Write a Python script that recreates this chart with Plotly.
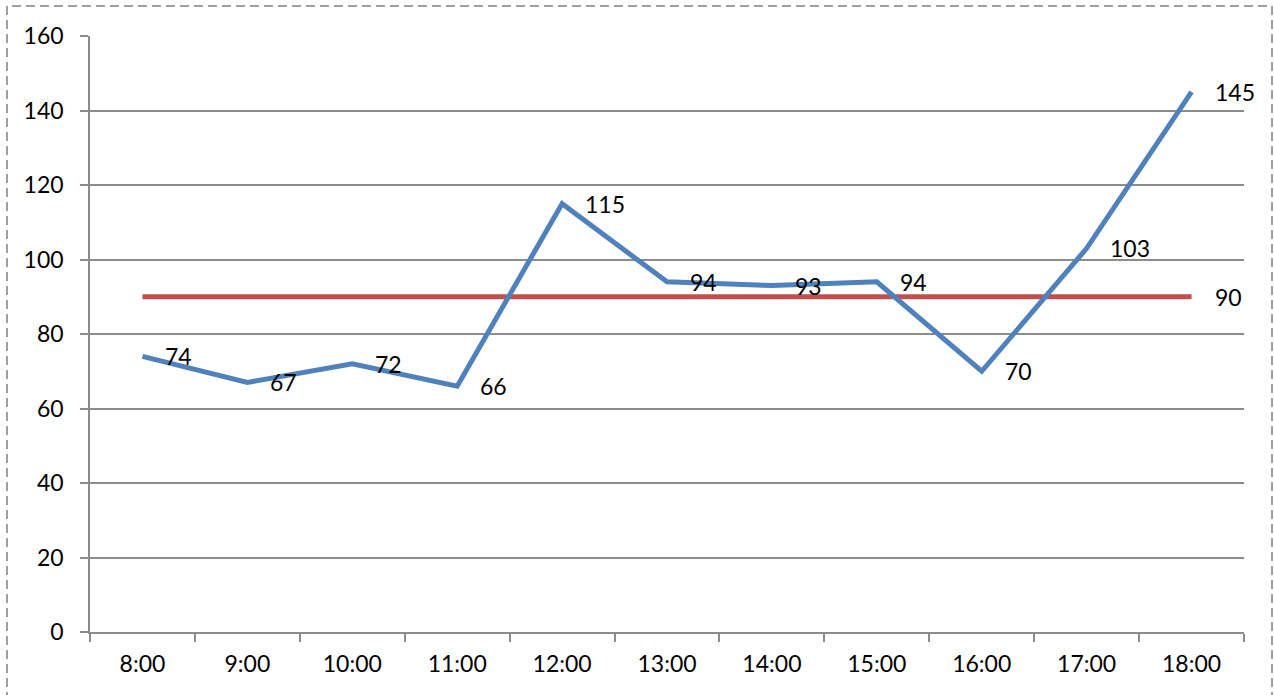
import plotly.graph_objects as go

# Hourly counts and the reference level
hours = ["8:00", "9:00", "10:00", "11:00", "12:00", "13:00", "14:00",
         "15:00", "16:00", "17:00", "18:00"]
counts = [74, 67, 72, 66, 115, 94, 93, 94, 70, 103, 145]
reference_level = [90] * len(hours)
y_ticks = [0, 20, 40, 60, 80, 100, 120, 140, 160]

FONT = "Lato, 'Open Sans', sans-serif"
FSIZE = 23
GRID = "#8c8c8c"

fig = go.Figure()

fig.add_trace(go.Scatter(
    x=hours, y=reference_level, mode="lines",
    line=dict(color="#C0504D", width=5), hoverinfo="skip", showlegend=False))

fig.add_trace(go.Scatter(
    x=hours, y=counts, mode="lines",
    line=dict(color="#4F81BD", width=5), showlegend=False))

# value labels to the right of each point
for h, v in zip(hours, counts):
    fig.add_annotation(x=h, y=v, text=str(v), showarrow=False,
                       xanchor="left", yanchor="middle", xshift=21,
                       font=dict(family=FONT, size=FSIZE, color="#000000"))
fig.add_annotation(x=hours[-1], y=reference_level[-1], text=str(reference_level[-1]),
                   showarrow=False, xanchor="left", yanchor="middle", xshift=21,
                   font=dict(family=FONT, size=FSIZE, color="#000000"))

# dashed frame around the whole chart (pixel positions converted to paper units)
W, H = 1274, 695
ml, mr, mt, mb = 90, 30, 36, 63
pw, ph = W - ml - mr, H - mt - mb


def px_x(p):
    return (p - ml) / pw


def px_y(p):
    return (mt + ph - p) / ph


fig.add_shape(type="rect", xref="paper", yref="paper",
              x0=px_x(7), x1=px_x(1272), y0=px_y(710), y1=px_y(6),
              line=dict(color="#808080", width=1.5, dash="9px,5px"),
              fillcolor="rgba(0,0,0,0)", layer="below")

fig.update_layout(
    width=W, height=H,
    margin=dict(l=ml, r=mr, t=mt, b=mb),
    paper_bgcolor="white", plot_bgcolor="white",
    font=dict(family=FONT, size=FSIZE, color="#000000"),
    xaxis=dict(type="category", categoryarray=hours, showgrid=False,
               showline=True, linecolor=GRID, linewidth=1.5,
               ticks="outside", tickson="boundaries", ticklen=8,
               tickcolor=GRID, tickwidth=1.5, ticklabelstandoff=11,
               tickfont=dict(family=FONT, size=FSIZE), range=[-0.5, len(hours) - 0.5]),
    yaxis=dict(range=[0, 160], tickvals=y_ticks, showgrid=True,
               gridcolor=GRID, gridwidth=1.5, zeroline=False,
               showline=True, linecolor=GRID, linewidth=1.5,
               ticks="outside", ticklen=8, tickcolor=GRID, tickwidth=1.5,
               ticklabelstandoff=12,
               tickfont=dict(family=FONT, size=FSIZE)),
)

fig.write_html("out.html")
